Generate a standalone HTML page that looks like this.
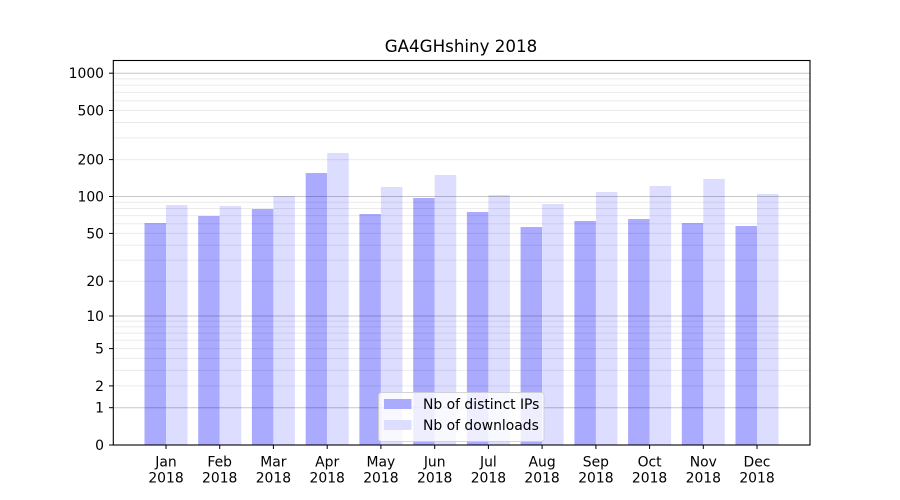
<!DOCTYPE html>
<html><head><meta charset="utf-8"><style>
html,body{margin:0;padding:0;background:#fff;}
svg{display:block;font-family:"DejaVu Sans","Liberation Sans",sans-serif;}
</style></head><body>
<svg width="900" height="500" viewBox="0 0 900 500" xmlns="http://www.w3.org/2000/svg">
<rect width="900" height="500" fill="#fff"/>
<text x="461" y="52" font-size="16.7" text-anchor="middle" fill="#000">GA4GHshiny 2018</text>
<!-- bars -->
<g>
<rect x="144.5" y="223" width="21.5" height="222" fill="#aaaaff"/><rect x="166" y="205" width="21.5" height="240" fill="#ddddff"/>
<rect x="198.2" y="216" width="21.5" height="229" fill="#aaaaff"/><rect x="219.7" y="206" width="21.5" height="239" fill="#ddddff"/>
<rect x="251.9" y="209" width="21.5" height="236" fill="#aaaaff"/><rect x="273.4" y="196" width="21.5" height="249" fill="#ddddff"/>
<rect x="305.7" y="173" width="21.5" height="272" fill="#aaaaff"/><rect x="327.2" y="153" width="21.5" height="292" fill="#ddddff"/>
<rect x="359.4" y="214" width="21.5" height="231" fill="#aaaaff"/><rect x="380.9" y="187" width="21.5" height="258" fill="#ddddff"/>
<rect x="413.2" y="198" width="21.5" height="247" fill="#aaaaff"/><rect x="434.7" y="175" width="21.5" height="270" fill="#ddddff"/>
<rect x="466.9" y="212" width="21.5" height="233" fill="#aaaaff"/><rect x="488.4" y="195" width="21.5" height="250" fill="#ddddff"/>
<rect x="520.6" y="227" width="21.5" height="218" fill="#aaaaff"/><rect x="542.1" y="204" width="21.5" height="241" fill="#ddddff"/>
<rect x="574.4" y="221" width="21.5" height="224" fill="#aaaaff"/><rect x="595.9" y="192" width="21.5" height="253" fill="#ddddff"/>
<rect x="628.1" y="219" width="21.5" height="226" fill="#aaaaff"/><rect x="649.6" y="186" width="21.5" height="259" fill="#ddddff"/>
<rect x="681.8" y="223" width="21.5" height="222" fill="#aaaaff"/><rect x="703.3" y="179" width="21.5" height="266" fill="#ddddff"/>
<rect x="735.5" y="226" width="21.5" height="219" fill="#aaaaff"/><rect x="757" y="194" width="21.5" height="251" fill="#ddddff"/>
</g>
<!-- minor grid -->
<g stroke="rgba(0,0,0,0.08)" stroke-width="1">
<line x1="113" x2="810" y1="385.9" y2="385.9"/><line x1="113" x2="810" y1="370.4" y2="370.4"/><line x1="113" x2="810" y1="358.4" y2="358.4"/><line x1="113" x2="810" y1="348.6" y2="348.6"/><line x1="113" x2="810" y1="340.3" y2="340.3"/><line x1="113" x2="810" y1="333.1" y2="333.1"/><line x1="113" x2="810" y1="326.8" y2="326.8"/><line x1="113" x2="810" y1="321.1" y2="321.1"/>
<line x1="113" x2="810" y1="281.2" y2="281.2"/><line x1="113" x2="810" y1="260.2" y2="260.2"/><line x1="113" x2="810" y1="245.2" y2="245.2"/><line x1="113" x2="810" y1="233.4" y2="233.4"/><line x1="113" x2="810" y1="223.8" y2="223.8"/><line x1="113" x2="810" y1="215.6" y2="215.6"/><line x1="113" x2="810" y1="208.5" y2="208.5"/><line x1="113" x2="810" y1="202.3" y2="202.3"/>
<line x1="113" x2="810" y1="159.6" y2="159.6"/><line x1="113" x2="810" y1="137.9" y2="137.9"/><line x1="113" x2="810" y1="122.5" y2="122.5"/><line x1="113" x2="810" y1="110.5" y2="110.5"/><line x1="113" x2="810" y1="100.7" y2="100.7"/><line x1="113" x2="810" y1="92.4" y2="92.4"/><line x1="113" x2="810" y1="85.2" y2="85.2"/><line x1="113" x2="810" y1="78.9" y2="78.9"/>
</g>
<!-- major grid -->
<g stroke="rgba(0,0,0,0.22)" stroke-width="1">
<line x1="113" x2="810" y1="407.7" y2="407.7"/><line x1="113" x2="810" y1="316" y2="316"/><line x1="113" x2="810" y1="196.5" y2="196.5"/><line x1="113" x2="810" y1="73.2" y2="73.2"/>
</g>
<!-- axes frame -->
<rect x="113.3" y="60.5" width="696.7" height="384.5" fill="none" stroke="#000" stroke-width="1.1"/>
<!-- y ticks -->
<g stroke="#000" stroke-width="1">
<line x1="109" x2="113" y1="445" y2="445"/><line x1="109" x2="113" y1="407.7" y2="407.7"/><line x1="109" x2="113" y1="385.9" y2="385.9"/><line x1="109" x2="113" y1="348.6" y2="348.6"/><line x1="109" x2="113" y1="316" y2="316"/><line x1="109" x2="113" y1="281.2" y2="281.2"/><line x1="109" x2="113" y1="233.4" y2="233.4"/><line x1="109" x2="113" y1="196.5" y2="196.5"/><line x1="109" x2="113" y1="159.6" y2="159.6"/><line x1="109" x2="113" y1="110.5" y2="110.5"/><line x1="109" x2="113" y1="73.2" y2="73.2"/>
</g>
<g font-size="13.9" text-anchor="end" fill="#000">
<text x="104" y="450">0</text><text x="104" y="412.7">1</text><text x="104" y="390.9">2</text><text x="104" y="353.6">5</text><text x="104" y="321">10</text><text x="104" y="286.2">20</text><text x="104" y="238.4">50</text><text x="104" y="201.5">100</text><text x="104" y="164.6">200</text><text x="104" y="115.5">500</text><text x="104" y="78.2">1000</text>
</g>
<!-- x ticks -->
<g stroke="#000" stroke-width="1">
<line x1="166" x2="166" y1="445" y2="449"/><line x1="219.7" x2="219.7" y1="445" y2="449"/><line x1="273.4" x2="273.4" y1="445" y2="449"/><line x1="327.2" x2="327.2" y1="445" y2="449"/><line x1="380.9" x2="380.9" y1="445" y2="449"/><line x1="434.7" x2="434.7" y1="445" y2="449"/><line x1="488.4" x2="488.4" y1="445" y2="449"/><line x1="542.1" x2="542.1" y1="445" y2="449"/><line x1="595.9" x2="595.9" y1="445" y2="449"/><line x1="649.6" x2="649.6" y1="445" y2="449"/><line x1="703.3" x2="703.3" y1="445" y2="449"/><line x1="757" x2="757" y1="445" y2="449"/>
</g>
<g font-size="13.9" text-anchor="middle" fill="#000">
<text x="166" y="466.5">Jan</text><text x="166" y="482.5">2018</text>
<text x="219.7" y="466.5">Feb</text><text x="219.7" y="482.5">2018</text>
<text x="273.4" y="466.5">Mar</text><text x="273.4" y="482.5">2018</text>
<text x="327.2" y="466.5">Apr</text><text x="327.2" y="482.5">2018</text>
<text x="380.9" y="466.5">May</text><text x="380.9" y="482.5">2018</text>
<text x="434.7" y="466.5">Jun</text><text x="434.7" y="482.5">2018</text>
<text x="488.4" y="466.5">Jul</text><text x="488.4" y="482.5">2018</text>
<text x="542.1" y="466.5">Aug</text><text x="542.1" y="482.5">2018</text>
<text x="595.9" y="466.5">Sep</text><text x="595.9" y="482.5">2018</text>
<text x="649.6" y="466.5">Oct</text><text x="649.6" y="482.5">2018</text>
<text x="703.3" y="466.5">Nov</text><text x="703.3" y="482.5">2018</text>
<text x="757" y="466.5">Dec</text><text x="757" y="482.5">2018</text>
</g>
<!-- legend -->
<rect x="378.5" y="392.5" width="165.5" height="49" rx="3" fill="rgba(255,255,255,0.8)" stroke="rgba(204,204,204,0.8)" stroke-width="1"/>
<rect x="384" y="399" width="27.5" height="10" fill="#aaaaff"/>
<rect x="384" y="420" width="27.5" height="10" fill="#ddddff"/>
<g font-size="13.9" fill="#000">
<text x="423" y="409">Nb of distinct IPs</text>
<text x="423" y="430">Nb of downloads</text>
</g>
</svg>
</body></html>
